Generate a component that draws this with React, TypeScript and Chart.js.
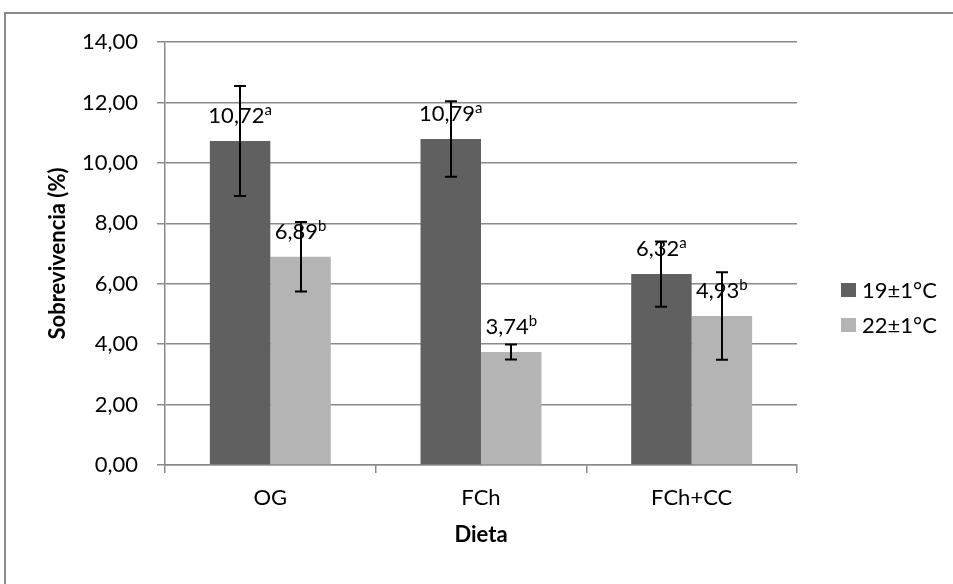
import { useEffect, useRef } from 'react';
import { Chart, registerables } from 'chart.js';

Chart.register(...registerables);

const categories = ['OG', 'FCh', 'FCh+CC'];
const seriesNames = ['19±1°C', '22±1°C'];
const values19 = [10.72, 10.79, 6.32];
const values22 = [6.89, 3.74, 4.93];
const errors19 = [1.82, 1.25, 1.08];
const errors22 = [1.15, 0.25, 1.45];
const letters19 = ['a', 'a', 'a'];
const letters22 = ['b', 'b', 'b'];
const seriesColors = ['#606060', '#b4b4b4'];
const yMin = 0;
const yMax = 14;
const yStep = 2;
const yTitle = 'Sobrevivencia (%)';
const xTitle = 'Dieta';

const FONT = 'Lato, "Open Sans", "DejaVu Sans", sans-serif';
const GRID = '#8a8a8a';

const allValues = [values19, values22];
const allErrors = [errors19, errors22];
const allLetters = [letters19, letters22];

const fmt = (v: number) => v.toFixed(2).replace('.', ',');

const framePlugin = {
  id: 'frame',
  beforeDraw(chart: any) {
    const ctx = chart.ctx;
    ctx.save();
    ctx.fillStyle = '#ffffff';
    ctx.fillRect(0, 0, chart.width, chart.height);
    ctx.fillStyle = GRID;
    ctx.fillRect(4, 12, chart.width - 4, 2);
    ctx.fillRect(4, 12, 2, chart.height - 12);
    ctx.restore();
  },
};

const labelErrorPlugin = {
  id: 'labelError',
  afterDatasetsDraw(chart: any) {
    const ctx = chart.ctx;
    const yScale = chart.scales.y;
    ctx.save();
    // data labels
    chart.data.datasets.forEach((_ds: any, i: number) => {
      const meta = chart.getDatasetMeta(i);
      meta.data.forEach((el: any, j: number) => {
        const main = fmt(allValues[i][j]);
        const sup = allLetters[i][j];
        ctx.font = `22px ${FONT}`;
        const w = ctx.measureText(main).width;
        ctx.font = `15px ${FONT}`;
        const ws = ctx.measureText(sup).width;
        const x0 = el.x - (w + ws) / 2;
        const base = el.y - 18;
        ctx.fillStyle = '#000000';
        ctx.textAlign = 'left';
        ctx.textBaseline = 'alphabetic';
        ctx.font = `22px ${FONT}`;
        ctx.fillText(main, x0, base);
        ctx.font = `15px ${FONT}`;
        ctx.fillText(sup, x0 + w, base - 8);
      });
    });
    // error bars
    ctx.strokeStyle = '#000000';
    ctx.lineWidth = 2;
    chart.data.datasets.forEach((_ds: any, i: number) => {
      const meta = chart.getDatasetMeta(i);
      meta.data.forEach((el: any, j: number) => {
        const v = allValues[i][j];
        const e = allErrors[i][j];
        const yt = yScale.getPixelForValue(v + e);
        const yb = yScale.getPixelForValue(v - e);
        const x = Math.round(el.x);
        ctx.beginPath();
        ctx.moveTo(x, yt);
        ctx.lineTo(x, yb);
        ctx.moveTo(x - 6, yt);
        ctx.lineTo(x + 6, yt);
        ctx.moveTo(x - 6, yb);
        ctx.lineTo(x + 6, yb);
        ctx.stroke();
      });
    });
    ctx.restore();
  },
};

const legendPlugin = {
  id: 'customLegend',
  afterDraw(chart: any) {
    const ctx = chart.ctx;
    ctx.save();
    const x = chart.chartArea.right + 44;
    const y0 = 290;
    const gap = 35;
    seriesNames.forEach((name, i) => {
      const cy = y0 + i * gap;
      ctx.fillStyle = seriesColors[i];
      ctx.fillRect(x, cy - 7, 15, 14);
      ctx.fillStyle = '#000000';
      ctx.font = `22px ${FONT}`;
      ctx.textAlign = 'left';
      ctx.textBaseline = 'middle';
      ctx.fillText(name, x + 21, cy + 1);
    });
    ctx.restore();
  },
};

export default function App() {
  const ref = useRef<HTMLCanvasElement | null>(null);

  useEffect(() => {
    if (!ref.current) return;
    const chart = new Chart(ref.current, {
      type: 'bar',
      data: {
        labels: categories,
        datasets: seriesNames.map((name, i) => ({
          label: name,
          data: allValues[i],
          backgroundColor: seriesColors[i],
          borderWidth: 0,
          categoryPercentage: 0.574,
          barPercentage: 1.0,
        })),
      },
      options: {
        responsive: false,
        animation: false,
        devicePixelRatio: 1,
        layout: { padding: { top: 42, right: 156, left: 0, bottom: 0 } },
        plugins: {
          legend: { display: false },
          tooltip: { enabled: false },
        },
        scales: {
          x: {
            grid: {
              display: true,
              drawOnChartArea: false,
              drawTicks: true,
              tickLength: 8,
              color: GRID,
              lineWidth: 1.5,
              offset: true,
            },
            border: { display: true, color: GRID, width: 1.5 },
            ticks: {
              color: '#000000',
              font: { family: FONT, size: 22 },
              padding: 12,
            },
            title: {
              display: true,
              text: xTitle,
              color: '#000000',
              font: { family: FONT, size: 22, weight: 'bold' },
              padding: { top: 0, bottom: 36 },
            },
            afterFit(scale: any) {
              scale.height = 119;
            },
          },
          y: {
            min: yMin,
            max: yMax,
            ticks: {
              stepSize: yStep,
              color: '#000000',
              font: { family: FONT, size: 22 },
              padding: 19,
              callback: (v: any) => fmt(Number(v)),
            },
            grid: {
              color: GRID,
              lineWidth: 1.5,
              drawTicks: true,
              tickLength: 8,
            },
            border: { display: true, color: GRID, width: 1.5 },
            title: {
              display: true,
              text: yTitle,
              color: '#000000',
              font: { family: FONT, size: 22, weight: 'bold' },
              padding: { top: 45, bottom: 0 },
            },
            afterFit(scale: any) {
              scale.width = 165;
            },
          },
        },
      },
      plugins: [framePlugin, labelErrorPlugin, legendPlugin],
    } as any);
    return () => chart.destroy();
  }, []);

  return (
    <div style={{ position: 'fixed', left: 0, top: 0, width: 953, height: 584, background: '#fff' }}>
      <canvas ref={ref} width={953} height={584} style={{ display: 'block', width: 953, height: 584 }} />
    </div>
  );
}
